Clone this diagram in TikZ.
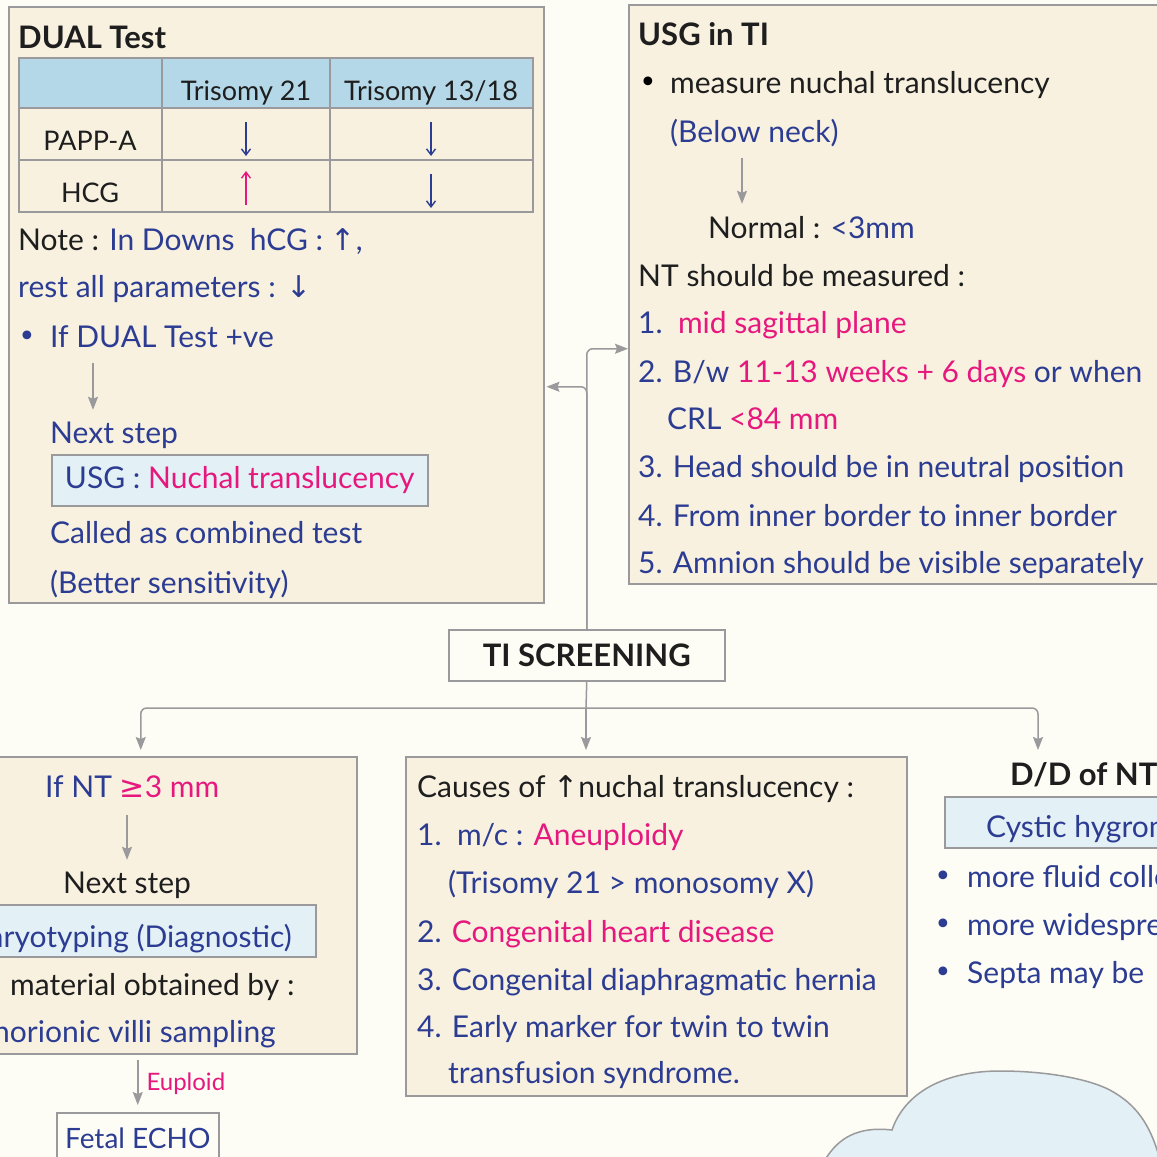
\documentclass[tikz,border=0pt]{standalone}
\usepackage{fontspec}
\setmainfont{Lato}
\newfontfamily\arrowfnt{DejaVu Sans}
\usetikzlibrary{arrows.meta}

\definecolor{inkblue}{HTML}{2B3C92}
\definecolor{inkpink}{HTML}{E6187E}
\definecolor{inkblack}{HTML}{1E1E1E}
\definecolor{edgegray}{HTML}{9A9A9C}
\definecolor{paper}{HTML}{FDFDF5}
\definecolor{boxfill}{HTML}{F8F1E0}
\definecolor{hilite}{HTML}{E3F0F6}
\definecolor{headblue}{HTML}{B4D8E8}

\newcommand{\handsize}{\fontsize{30}{34}\selectfont}
\newcommand{\pk}[1]{\textcolor{inkpink}{#1}}
\newcommand{\bl}[1]{\textcolor{inkblue}{#1}}

\begin{document}
\begin{tikzpicture}[x=1pt,y=-1pt,
  every node/.style={inner sep=0pt},
  panel/.style={draw=edgegray,fill=boxfill,line width=1.5pt,anchor=north west},
  hibox/.style={draw=edgegray,fill=hilite,line width=1.5pt,anchor=north west,font=\handsize},
  txt/.style={anchor=base west,text height=22pt,text depth=7pt,font=\handsize,text=inkblack},
  head/.style={txt,font=\bfseries\fontsize{31}{35}\selectfont},
  cell/.style={anchor=base,font=\fontsize{27}{31}\selectfont,text=inkblack},
  bulletmark/.style={anchor=base,font=\arrowfnt\fontsize{30}{32}\selectfont},
  link/.style={draw=edgegray,line width=1.5pt,rounded corners=6pt,-{Stealth[length=13pt,width=10pt,inset=2pt]}},
  wire/.style={draw=edgegray,line width=1.5pt},
  tablerule/.style={draw=edgegray,line width=1.5pt},
  tinyarrow/.style={line width=1.4pt,-{Straight Barb[length=6pt,width=9pt]}},
  bubble/.style={draw=edgegray,fill=hilite,line width=1.5pt}]
\useasboundingbox (0,0) rectangle (1157,1157);
\fill[paper] (0,0) rectangle (1157,1157);

% panels
\node[panel,minimum width=535pt,minimum height=596pt] (dual) at (8,6) {};
\node[panel,minimum width=560pt,minimum height=579pt] (usg) at (628,4) {};
\node[panel,minimum width=432pt,minimum height=297pt] (ntpanel) at (-76,756) {};
\node[panel,minimum width=501pt,minimum height=339pt] (causes) at (405,756) {};

% dual test
\node[head] (dualtitle) at (18,48) {DUAL Test};
\fill[headblue] (19,58) rectangle (533,108);
\draw[tablerule] (19,58) rectangle (533,212)
  (19,108) -- (533,108) (19,160) -- (533,160)
  (162,58) -- (162,212) (330,58) -- (330,212);
\node[cell] (tri21) at (246,100) {Trisomy 21};
\node[cell] (tri1318) at (431,100) {Trisomy 13/18};
\node[cell] (papp) at (90,150) {PAPP-A};
\node[cell] (hcg) at (90,202) {HCG};
\draw[tinyarrow,inkblue] (246,122) -- (246,156);
\draw[tinyarrow,inkblue] (431,122) -- (431,156);
\draw[tinyarrow,inkpink] (246,205) -- (246,171);
\draw[tinyarrow,inkblue] (431,174) -- (431,208);
\node[txt] (note) at (18,250) {Note : \bl{In Downs\ \ hCG : {\arrowfnt ↑},}};
\node[txt,text=inkblue] (rest) at (18,297) {rest all parameters : {\arrowfnt ↓}};
\node[bulletmark,text=inkblue] (dotA) at (27,346) {•};
\node[txt,text=inkblue] (ifdual) at (50,347) {If DUAL Test +ve};
\node[txt,text=inkblue] (nexta) at (50,443) {Next step};
\node[hibox,minimum width=376pt,minimum height=51pt] (usgnt) at (51,454) {\bl{USG :} \pk{Nuchal translucency}};
\node[txt,text=inkblue] (combined) at (50,543) {Called as combined test};
\node[txt,text=inkblue] (better) at (50,593) {(Better sensitivity)};
\draw[link,shorten <=9pt,shorten >=11pt] ([xshift=43pt]ifdual.south west) -- ([xshift=43pt]nexta.north west);

% usg in TI
\node[head] (usgtitle) at (638,45) {USG in TI};
\node[bulletmark] (dotB) at (648,92) {•};
\node[txt] (measure) at (670,93) {measure nuchal translucency};
\node[txt,text=inkblue] (belowneck) at (670,142) {(Below neck)};
\node[txt] (normal) at (708,238) {Normal : \bl{<3mm}};
\node[txt] (ntmeasured) at (638,286) {NT should be measured :};
\node[txt,text=inkblue] (stepi) at (638,333) {1.\ \ \pk{mid sagittal plane}};
\node[txt,text=inkblue] (stepii) at (638,382) {2. B/w \pk{11-13 weeks + 6 days} or when};
\node[txt,text=inkblue] (crl) at (667,429) {CRL \pk{<84 mm}};
\node[txt,text=inkblue] (stepiii) at (638,477) {3. Head should be in neutral position};
\node[txt,text=inkblue] (stepiv) at (638,526) {4. From inner border to inner border};
\node[txt,text=inkblue] (stepv) at (638,573) {5. Amnion should be visible separately};
\draw[link,shorten <=9pt,shorten >=12pt] ([xshift=72pt]belowneck.south west) -- ([xshift=34pt]normal.north west);

% screening
\node[draw=edgegray,fill=paper,line width=1.5pt,anchor=north west,minimum width=276pt,minimum height=51pt,font=\bfseries\fontsize{31}{35}\selectfont,text=inkblack] (screen) at (448,629) {TI SCREENING};
\draw[link] (screen.north) |- ([yshift=-54.5pt]usg.west);
\draw[link,shorten >=2pt] (screen.north) |- ([yshift=-82pt]dual.east);
\coordinate (fork) at (586,708);
\coordinate (ddhead) at (1038,750);
\draw[wire] (screen.south) -- (fork);
\draw[link,shorten >=6pt] (fork) -| (ntpanel.north);
\draw[link,shorten >=6pt] (fork) -- (fork |- causes.north);
\draw[link] (fork) -| (ddhead);

% if NT raised
\node[txt,text=inkblue] (ifnt) at (45,797) {If NT \pk{{\arrowfnt ≥}3 mm}};
\node[txt] (nextb) at (63,893) {Next step};
\node[hibox,minimum width=375pt,minimum height=52pt] (karyobox) at (-60,904) {};
\node[txt,anchor=base east,text=inkblue] (karyo) at (292,947) {Karyotyping (Diagnostic)};
\node[txt] (material) at (10,995) {material obtained by :};
\node[txt,anchor=base east,text=inkblue] (cvs) at (276,1042) {Chorionic villi sampling};
\draw[link,shorten <=11pt,shorten >=11pt] ([xshift=82pt]ifnt.south west) -- ([xshift=64pt]nextb.north west);
\node[draw=edgegray,fill=paper,line width=1.5pt,anchor=north west,minimum width=162pt,minimum height=51pt,font=\fontsize{28}{32}\selectfont,text=inkblue] (echo) at (56,1112) {Fetal ECHO};
\draw[link,shorten <=5pt,shorten >=7pt] (ntpanel.south -| echo.north) -- (echo.north)
  node[midway,right=8pt,text=inkpink,font=\fontsize{24}{28}\selectfont] (euploid) {Euploid};

% causes
\node[txt] (causetitle) at (417,797) {Causes of {\arrowfnt ↑}nuchal translucency :};
\node[txt,text=inkblue] (causei) at (417,845) {1.\ \ m/c : \pk{Aneuploidy}};
\node[txt,text=inkblue] (trisomy) at (448,893) {(Trisomy 21 > monosomy X)};
\node[txt,text=inkblue] (causeii) at (417,942) {2. \pk{Congenital heart disease}};
\node[txt,text=inkblue] (causeiii) at (417,990) {3. Congenital diaphragmatic hernia};
\node[txt,text=inkblue] (causeiv) at (417,1037) {4. Early marker for twin to twin};
\node[txt,text=inkblue] (ttts) at (448,1083) {transfusion syndrome.};

% differential
\node[head] (ddtitle) at (1010,785) {D/D of NT};
\node[hibox,minimum width=250pt,minimum height=51pt] (cysticbox) at (944,796) {};
\node[txt,text=inkblue] (cystic) at (986,837) {Cystic hygroma};
\node[bulletmark,text=inkblue] (dotC) at (943,886) {•};
\node[txt,text=inkblue] (fluid) at (967,887) {more fluid collection};
\node[bulletmark,text=inkblue] (dotD) at (943,934) {•};
\node[txt,text=inkblue] (spread) at (967,935) {more widespread};
\node[bulletmark,text=inkblue] (dotE) at (943,982) {•};
\node[txt,text=inkblue] (septa) at (967,983) {Septa may be};

% cloud
\draw[bubble] (825,1160) .. controls (838,1138) and (858,1126) .. (892,1130)
  .. controls (905,1092) and (945,1071) .. (1000,1071)
  .. controls (1050,1071) and (1095,1080) .. (1115,1093)
  .. controls (1140,1108) and (1152,1130) .. (1160,1160) -- cycle;
\end{tikzpicture}
\end{document}
